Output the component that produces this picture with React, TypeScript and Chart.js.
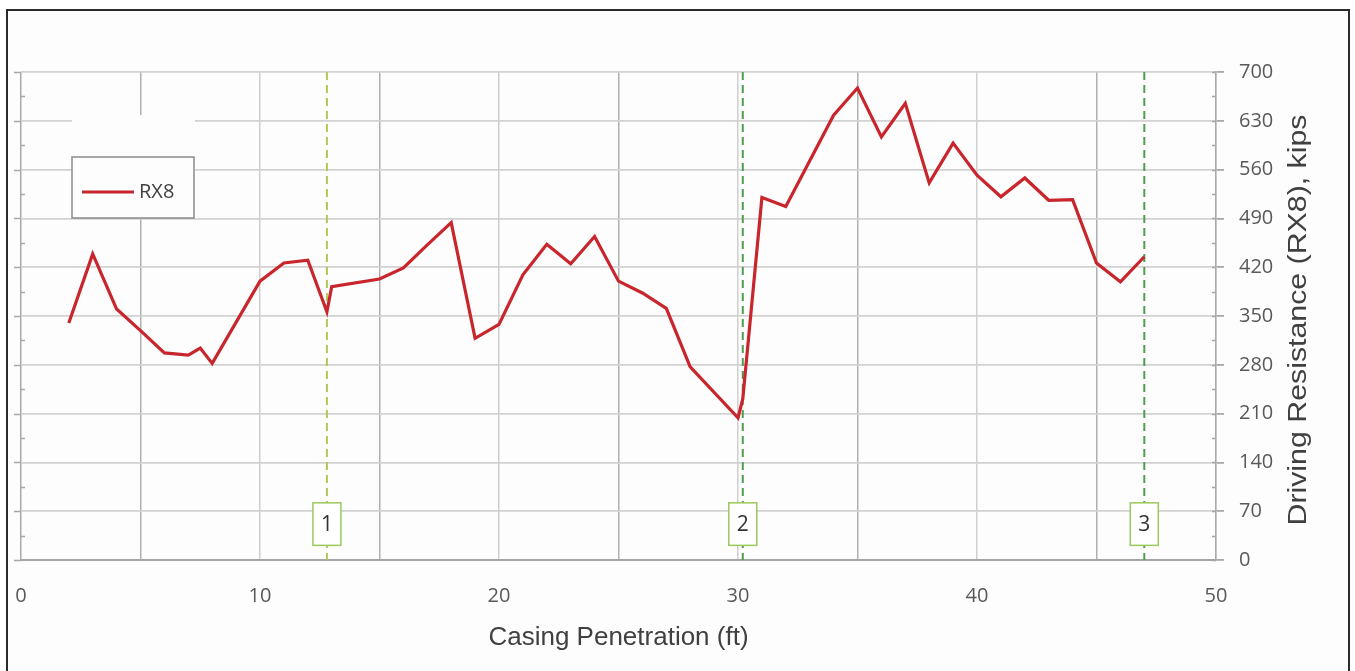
import React, { useEffect, useRef } from 'react';
import { Chart, registerables } from 'chart.js';

Chart.register(...registerables);

// ---- data ----
const depthFt = [
  2, 3, 4, 5, 6, 7, 7.5, 8, 10, 11, 12, 12.8, 13, 15, 16, 17, 18, 19, 20, 21,
  22, 23, 24, 25, 26, 27, 28, 30, 30.2, 31, 32, 34, 35, 36, 37, 38, 39, 40, 41,
  42, 43, 44, 45, 46, 47,
];
const rx8Kips = [
  340, 439, 360, 329, 297, 294, 304, 282, 400, 426, 430, 356, 392, 403, 419, 452,
  484, 318, 338, 409, 453, 425, 464, 400, 383, 361, 277, 204, 231, 520, 507, 638,
  677, 607, 655, 541, 598, 552, 521, 548, 516, 517, 426, 399, 435,
];
const seriesName = 'RX8';
const markerDepths = [12.8, 30.2, 47];
const markerLabels = ['1', '2', '3'];
const markerColors = ['#b3c65a', '#4f9d4f', '#4f9d4f'];
const xTitle = 'Casing Penetration (ft)';
const yTitle = 'Driving Resistance (RX8), kips';
const xMin = 0;
const xMax = 50;
const xStep = 5;
const yMin = 0;
const yMax = 700;
const yStep = 70;

const TICK_FONT = '"Open Sans", sans-serif';
const TITLE_FONT = '"Liberation Sans", Arial, sans-serif';

export default function App() {
  const ref = useRef<HTMLCanvasElement>(null);

  useEffect(() => {
    document.body.style.margin = '0';
    const canvas = ref.current;
    if (!canvas) return;

    const custom = {
      id: 'custom',
      beforeDraw(chart: any) {
        const ctx = chart.ctx;
        ctx.save();
        ctx.fillStyle = '#ffffff';
        ctx.fillRect(0, 0, chart.width, chart.height);
        ctx.fillStyle = '#fdfdfd';
        ctx.fillRect(8, 11, 1340, 670);
        ctx.strokeStyle = '#2a2a2a';
        ctx.lineWidth = 2;
        ctx.strokeRect(7, 10, 1342, 700);
        ctx.restore();
      },
      beforeDatasetsDraw(chart: any) {
        const { ctx, chartArea, scales } = chart;
        const x = scales.x;
        const y = scales.y;
        ctx.save();
        // axis tick marks (left major outward, minor inward both sides)
        ctx.strokeStyle = '#a8a8a8';
        ctx.lineWidth = 1.5;
        for (let v = yMin; v <= yMax; v += yStep / 2) {
          const py = Math.round(y.getPixelForValue(v)) + 0.5;
          const major = v % yStep === 0;
          ctx.beginPath();
          if (major) {
            ctx.moveTo(chartArea.left - 7, py);
            ctx.lineTo(chartArea.left, py);
            ctx.moveTo(chartArea.right - 4, py);
            ctx.lineTo(chartArea.right, py);
          } else {
            ctx.moveTo(chartArea.left, py);
            ctx.lineTo(chartArea.left + 4, py);
            ctx.moveTo(chartArea.right - 4, py);
            ctx.lineTo(chartArea.right, py);
          }
          ctx.stroke();
        }
        // vertical marker lines with numbered boxes
        markerDepths.forEach((d, i) => {
          const px = x.getPixelForValue(d);
          ctx.setLineDash([8, 5]);
          ctx.strokeStyle = markerColors[i];
          ctx.lineWidth = 2;
          ctx.beginPath();
          ctx.moveTo(px, chartArea.top);
          ctx.lineTo(px, chartArea.bottom);
          ctx.stroke();
          ctx.setLineDash([]);
          const top = y.getPixelForValue(82);
          const bottom = y.getPixelForValue(21);
          ctx.fillStyle = '#ffffff';
          ctx.fillRect(px - 14, top, 28, bottom - top);
          ctx.strokeStyle = '#9cc95c';
          ctx.lineWidth = 1.5;
          ctx.strokeRect(px - 14, top, 28, bottom - top);
          ctx.fillStyle = '#333333';
          ctx.font = `21px ${TICK_FONT}`;
          ctx.textAlign = 'center';
          ctx.textBaseline = 'middle';
          ctx.fillText(markerLabels[i], px, (top + bottom) / 2 + 1);
        });
        ctx.restore();
      },
      afterDraw(chart: any) {
        const { ctx, chartArea } = chart;
        ctx.save();
        // legend
        ctx.fillStyle = '#fdfdfd';
        ctx.fillRect(72, 115, 123, 103);
        ctx.strokeStyle = '#8a8a8a';
        ctx.lineWidth = 1.5;
        ctx.strokeRect(72, 157, 122, 61);
        ctx.strokeStyle = '#c8262c';
        ctx.lineWidth = 3;
        ctx.beginPath();
        ctx.moveTo(82, 192);
        ctx.lineTo(134, 192);
        ctx.stroke();
        ctx.fillStyle = '#404040';
        ctx.font = `20px ${TICK_FONT}`;
        ctx.textAlign = 'left';
        ctx.textBaseline = 'middle';
        ctx.fillText(seriesName, 139, 192);
        // right y-axis title (reads bottom to top)
        ctx.font = `26px ${TITLE_FONT}`;
        const w = ctx.measureText(yTitle).width;
        const cy = (chartArea.top + chartArea.bottom) / 2 + 4;
        ctx.translate(1306, cy);
        ctx.rotate(-Math.PI / 2);
        ctx.scale(411 / w, 1);
        ctx.textAlign = 'center';
        ctx.textBaseline = 'alphabetic';
        ctx.fillStyle = '#404040';
        ctx.fillText(yTitle, 0, 0);
        ctx.restore();
      },
    };

    const chart = new Chart(canvas, {
      type: 'line',
      data: {
        datasets: [
          {
            label: seriesName,
            data: depthFt.map((d, i) => ({ x: d, y: rx8Kips[i] })),
            borderColor: '#c8262c',
            backgroundColor: '#c8262c',
            borderWidth: 3.2,
            pointRadius: 0,
            tension: 0,
          },
        ],
      },
      options: {
        responsive: false,
        animation: false,
        devicePixelRatio: 1,
        layout: { padding: { left: 21, top: 72, right: 0, bottom: 0 } },
        plugins: {
          legend: { display: false },
          tooltip: { enabled: false },
        },
        scales: {
          x: {
            type: 'linear',
            min: xMin,
            max: xMax,
            afterFit: (s: any) => {
              s.height = 111;
              s.paddingLeft = 0;
              s.paddingRight = 0;
            },
            ticks: {
              stepSize: xStep,
              autoSkip: false,
              maxRotation: 0,
              padding: 24,
              color: '#595959',
              font: { family: TICK_FONT, size: 20 },
              callback: (v: any) => (Number(v) % 10 === 0 ? String(v) : ''),
            },
            grid: {
              drawTicks: false,
              lineWidth: 1.5,
              color: (c: any) => {
                const v = c.tick ? c.tick.value : 1;
                if (v === 0) return '#a8a8a8';
                return v % 10 === 0 ? '#cfcfcf' : '#b0b0b0';
              },
            },
            border: { display: true, color: '#a4a4a4', width: 2 },
            title: {
              display: true,
              text: xTitle,
              color: '#404040',
              font: { family: TITLE_FONT, size: 26 },
              padding: { top: 0, bottom: 18 },
            },
          },
          y: {
            type: 'linear',
            position: 'right',
            min: yMin,
            max: yMax,
            afterFit: (s: any) => {
              s.width = 139;
            },
            ticks: {
              stepSize: yStep,
              padding: 15,
              color: '#595959',
              font: { family: TICK_FONT, size: 20 },
            },
            grid: {
              color: '#d2d2d2',
              lineWidth: 1.8,
              tickColor: '#a8a8a8',
              tickLength: 8,
            },
            border: { display: true, color: '#aaaaaa', width: 1.5 },
          },
        },
      },
      plugins: [custom],
    });

    return () => chart.destroy();
  }, []);

  return (
    <div style={{ position: 'relative', width: 1355, height: 671, overflow: 'hidden' }}>
      <canvas ref={ref} width={1355} height={671} style={{ display: 'block' }} />
    </div>
  );
}
